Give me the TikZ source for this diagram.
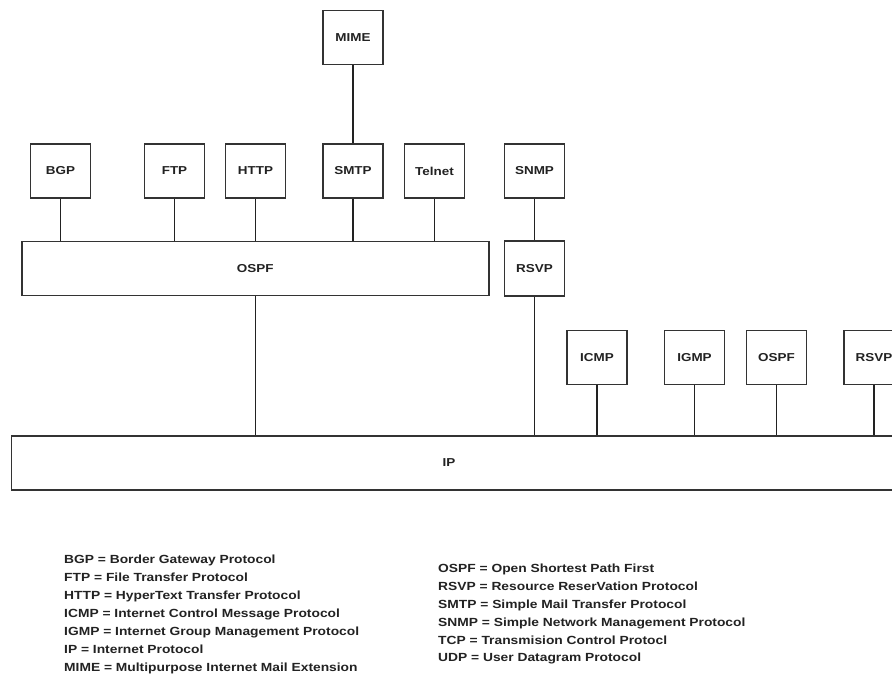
\documentclass[tikz,border=0pt]{standalone}
\usepackage{fontspec}
\setmainfont{Liberation Sans}[FakeStretch=1.17]
\definecolor{ink}{HTML}{222222}
\definecolor{edge}{HTML}{333333}
\tikzset{
  proto/.style={draw=edge, line width=1.6pt, minimum width=60pt, minimum height=54pt,
    inner sep=0pt, font=\fontsize{11.5}{13}\selectfont\bfseries, text=ink},
  bar/.style={draw=edge, line width=1.6pt, minimum height=54pt, inner sep=0pt,
    font=\fontsize{11.5}{13}\selectfont\bfseries, text=ink},
  link/.style={draw=ink, line width=1.3pt},
  legend/.style={anchor=base west, inner sep=0pt, text=ink,
    font=\fontsize{11.8}{18}\selectfont\bfseries}
}
\begin{document}
\begin{tikzpicture}[x=1pt, y=-1pt]
\useasboundingbox (0,0) rectangle (892,673);
\clip (0,0) rectangle (892,673);
\fill[white] (0,0) rectangle (892,673);

% application layer
\node[proto] (mime) at (353,37.5) {MIME};
\node[proto] (bgp) at (60.5,171) {BGP};
\node[proto] (ftp) at (174.5,171) {FTP};
\node[proto] (http) at (255.5,171) {HTTP};
\node[proto] (smtp) at (353,171) {SMTP};
\node[proto] (telnet) at (434.5,171) {Telnet};
\node[proto] (snmp) at (534.5,171) {SNMP};

% transport / routing layer
\node[bar, minimum width=467pt] (ospf) at (255.3,268.5) {OSPF};
\node[proto, minimum height=55pt] (rsvp) at (534.5,268.5) {RSVP};

% protocols sitting directly on IP
\node[proto] (icmp) at (597,357.5) {ICMP};
\node[proto] (igmp) at (694.5,357.5) {IGMP};
\node[proto] (ospfb) at (776.5,357.5) {OSPF};
\node[proto] (rsvpb) at (874,357.5) {RSVP};

% network layer
\node[bar, minimum width=894pt] (ip) at (458.5,463) {};
\node[inner sep=0pt, font=\fontsize{11.5}{13}\selectfont\bfseries, text=ink] (iplabel) at (449,463) {IP};

% connectors
\draw[link] (mime.south) -- (smtp.north);
\foreach \n in {bgp,ftp,http,smtp,telnet}
  \draw[link] (\n.south) -- (\n.south |- ospf.north);
\draw[link] (snmp.south) -- (rsvp.north);
\draw[link] (ospf.south) -- (ospf.south |- ip.north);
\draw[link] (rsvp.south) -- (rsvp.south |- ip.north);
\foreach \n in {icmp,igmp,ospfb,rsvpb}
  \draw[link] (\n.south) -- (\n.south |- ip.north);

% abbreviations
\node[legend] (l1) at (64,563.5) {BGP = Border Gateway Protocol};
\node[legend] (l2) at (64,581.5) {FTP = File Transfer Protocol};
\node[legend] (l3) at (64,599.5) {HTTP = HyperText Transfer Protocol};
\node[legend] (l4) at (64,617.5) {ICMP = Internet Control Message Protocol};
\node[legend] (l5) at (64,635.5) {IGMP = Internet Group Management Protocol};
\node[legend] (l6) at (64,653.5) {IP = Internet Protocol};
\node[legend] (l7) at (64,671.5) {MIME = Multipurpose Internet Mail Extension};
\node[legend] (r1) at (438,572.8) {OSPF = Open Shortest Path First};
\node[legend] (r2) at (438,590.6) {RSVP = Resource ReserVation Protocol};
\node[legend] (r3) at (438,608.4) {SMTP = Simple Mail Transfer Protocol};
\node[legend] (r4) at (438,626.2) {SNMP = Simple Network Management Protocol};
\node[legend] (r5) at (438,644.0) {TCP = Transmision Control Protocl};
\node[legend] (r6) at (438,661.8) {UDP = User Datagram Protocol};
\end{tikzpicture}
\end{document}
